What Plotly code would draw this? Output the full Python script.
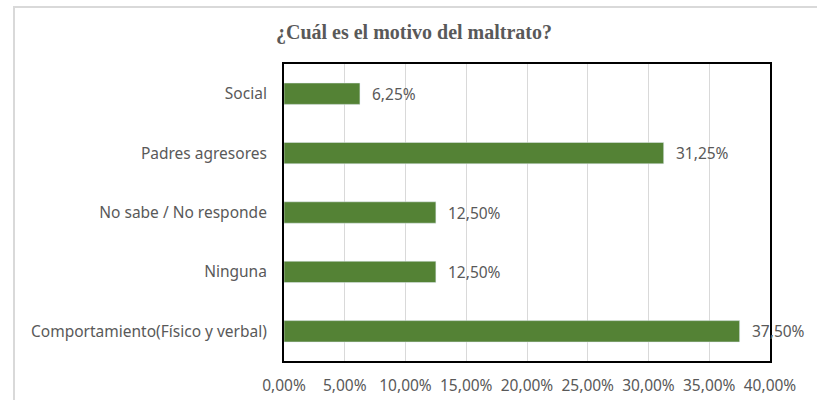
import plotly.graph_objects as go

categories = ["Comportamiento(Físico y verbal)", "Ninguna", "No sabe / No responde", "Padres agresores", "Social"]
values = [0.375, 0.125, 0.125, 0.3125, 0.0625]
labels = ["37,50%", "12,50%", "12,50%", "31,25%", "6,25%"]
tick_vals = [0, 0.05, 0.10, 0.15, 0.20, 0.25, 0.30, 0.35, 0.40]
tick_text = ["0,00%", "5,00%", "10,00%", "15,00%", "20,00%", "25,00%", "30,00%", "35,00%", "40,00%"]

W, H = 817, 400
L, R, T, B = 284, 47, 64, 39
FONT = "Noto Sans"
FS = 15.5
GREY = "#595959"

fig = go.Figure(go.Bar(
    y=categories, x=values, orientation="h",
    marker=dict(color="#548235"),
    width=0.36,
    hoverinfo="skip",
))

for c, v, t in zip(categories, values, labels):
    fig.add_annotation(x=v, y=c, text=t, showarrow=False, xanchor="left",
                       xshift=10, font=dict(family=FONT, size=FS, color=GREY))

pw = W - L - R
ph = H - T - B
fig.add_shape(type="rect", xref="paper", yref="paper",
              x0=(14 - L) / pw, x1=(W + 20 - L) / pw,
              y0=-(B + 20) / ph, y1=(H - B - 7) / ph,
              line=dict(color="#d9d9d9", width=2), fillcolor="rgba(0,0,0,0)", layer="below")

fig.update_layout(
    width=W, height=H,
    margin=dict(l=L, r=R, t=T, b=B, autoexpand=False),
    paper_bgcolor="white", plot_bgcolor="white",
    showlegend=False,
    title=dict(text="<b>¿Cuál es el motivo del maltrato?</b>", x=414 / W, xanchor="center",
               y=1 - 32 / H, yanchor="middle",
               font=dict(family="Liberation Serif", size=20, color=GREY)),
    xaxis=dict(range=[0, 0.40], tickvals=tick_vals, ticktext=tick_text,
               showgrid=True, gridcolor="#d9d9d9", gridwidth=1,
               showline=True, linecolor="black", linewidth=2, mirror=True,
               zeroline=False, ticks="", ticklabelstandoff=9, automargin=False,
               tickfont=dict(family=FONT, size=FS, color=GREY)),
    yaxis=dict(showgrid=False, showline=True, linecolor="black", linewidth=2, mirror=True,
               ticks="", ticklabelstandoff=12, automargin=False,
               tickfont=dict(family=FONT, size=FS, color=GREY)),
)

fig.write_html("out.html", config={"displayModeBar": False},
               post_script="document.body.style.margin='0';document.body.style.overflow='hidden';")
